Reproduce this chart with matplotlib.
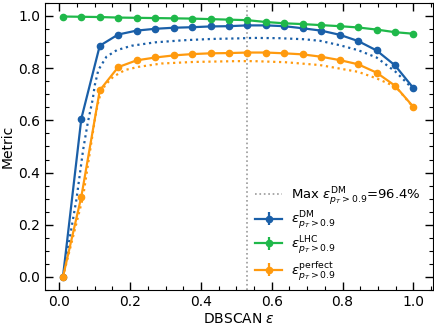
import matplotlib
matplotlib.use("Agg")
import matplotlib.pyplot as plt
import matplotlib.ticker as ticker

# ---------------------------------------------------------------------------
# Data
# ---------------------------------------------------------------------------

EPS = [0.010, 0.062, 0.114, 0.166, 0.218, 0.271, 0.323, 0.375, 0.427, 0.479,
       0.531, 0.583, 0.635, 0.687, 0.739, 0.792, 0.844, 0.896, 0.948, 1.000]

eff_dm = [0.0, 0.607, 0.886, 0.929, 0.944, 0.951, 0.955, 0.957, 0.960, 0.961,
          0.964, 0.964, 0.961, 0.953, 0.944, 0.928, 0.904, 0.868, 0.811, 0.724]
eff_lhc = [0.998, 0.997, 0.996, 0.994, 0.993, 0.992, 0.991, 0.990, 0.988, 0.986,
           0.984, 0.977, 0.972, 0.969, 0.965, 0.961, 0.956, 0.948, 0.938, 0.932]
eff_perfect = [0.0, 0.308, 0.715, 0.804, 0.830, 0.841, 0.849, 0.854, 0.857, 0.858,
               0.860, 0.860, 0.857, 0.853, 0.844, 0.831, 0.815, 0.783, 0.733, 0.652]

# dotted reference curves
EPS_DM_DOT = [0.010, 0.048, 0.067, 0.080, 0.094, 0.100, 0.110, 0.133, 0.162, 0.204,
              0.270, 0.350, 0.430, 0.500, 0.550, 0.620, 0.690, 0.736, 0.792, 0.844,
              0.896, 0.950, 1.000]
dm_dot = [0.0, 0.296, 0.487, 0.590, 0.680, 0.735, 0.793, 0.844, 0.869, 0.886,
          0.899, 0.907, 0.912, 0.914, 0.916, 0.915, 0.911, 0.905, 0.888, 0.869,
          0.841, 0.786, 0.719]

EPS_PF_DOT = [0.010, 0.067, 0.100, 0.108, 0.114, 0.129, 0.152, 0.185, 0.223, 0.289,
              0.380, 0.500, 0.550, 0.637, 0.736, 0.844, 0.896, 0.950, 1.000]
pf_dot = [0.0, 0.308, 0.602, 0.660, 0.691, 0.735, 0.767, 0.793, 0.805, 0.818,
          0.824, 0.827, 0.827, 0.823, 0.812, 0.786, 0.761, 0.729, 0.650]

BEST_EPS = 0.531
YERR = 0.004

BLUE   = "#1a5fa8"
GREEN  = "#1fb84a"
ORANGE = "#ff9a0e"

# ---------------------------------------------------------------------------
# Plot
# ---------------------------------------------------------------------------

plt.rcParams["font.family"] = "DejaVu Sans"
plt.rcParams["mathtext.fontset"] = "dejavusans"

fig = plt.figure(figsize=(4.35, 3.27), dpi=100)
ax = fig.add_axes([0.104, 0.113, 0.891, 0.878])

vline = ax.axvline(BEST_EPS, color="#999999", linestyle=":", linewidth=1.2,
                   label=r"Max $\epsilon^{\mathrm{DM}}_{p_T>0.9}$=96.4%")

ax.plot(EPS_DM_DOT, dm_dot, color=BLUE, linestyle=":", linewidth=1.6)
ax.plot(EPS_PF_DOT, pf_dot, color=ORANGE, linestyle=":", linewidth=1.6)

series = [
    (r"$\epsilon^{\mathrm{DM}}_{p_T>0.9}$",      eff_dm,      BLUE),
    (r"$\epsilon^{\mathrm{LHC}}_{p_T>0.9}$",     eff_lhc,     GREEN),
    (r"$\epsilon^{\mathrm{perfect}}_{p_T>0.9}$", eff_perfect, ORANGE),
]
handles = [vline]
for label, vals, color in series:
    h = ax.errorbar(EPS, vals, yerr=YERR, color=color, marker="o", markersize=4.5,
                    linewidth=1.6, label=label)
    handles.append(h)

ax.set_xlim(-0.04, 1.055)
ax.set_ylim(-0.05, 1.05)
ax.set_xlabel(r"DBSCAN $\epsilon$", fontsize=10, labelpad=2)
ax.set_ylabel("Metric", fontsize=10, labelpad=3)

ax.xaxis.set_major_locator(ticker.MultipleLocator(0.2))
ax.yaxis.set_major_locator(ticker.MultipleLocator(0.2))
ax.xaxis.set_minor_locator(ticker.MultipleLocator(0.05))
ax.yaxis.set_minor_locator(ticker.MultipleLocator(0.05))
ax.tick_params(which="both", direction="in", top=True, right=True, labelsize=10)
ax.tick_params(which="major", length=5.5, width=1)
ax.tick_params(which="minor", length=3, width=0.8)

ax.legend(handles=handles, loc="lower right", frameon=False, fontsize=9.5,
          labelspacing=0.2, handletextpad=0.7, bbox_to_anchor=(1.0, -0.012))

fig.savefig("out.png", dpi=100)
